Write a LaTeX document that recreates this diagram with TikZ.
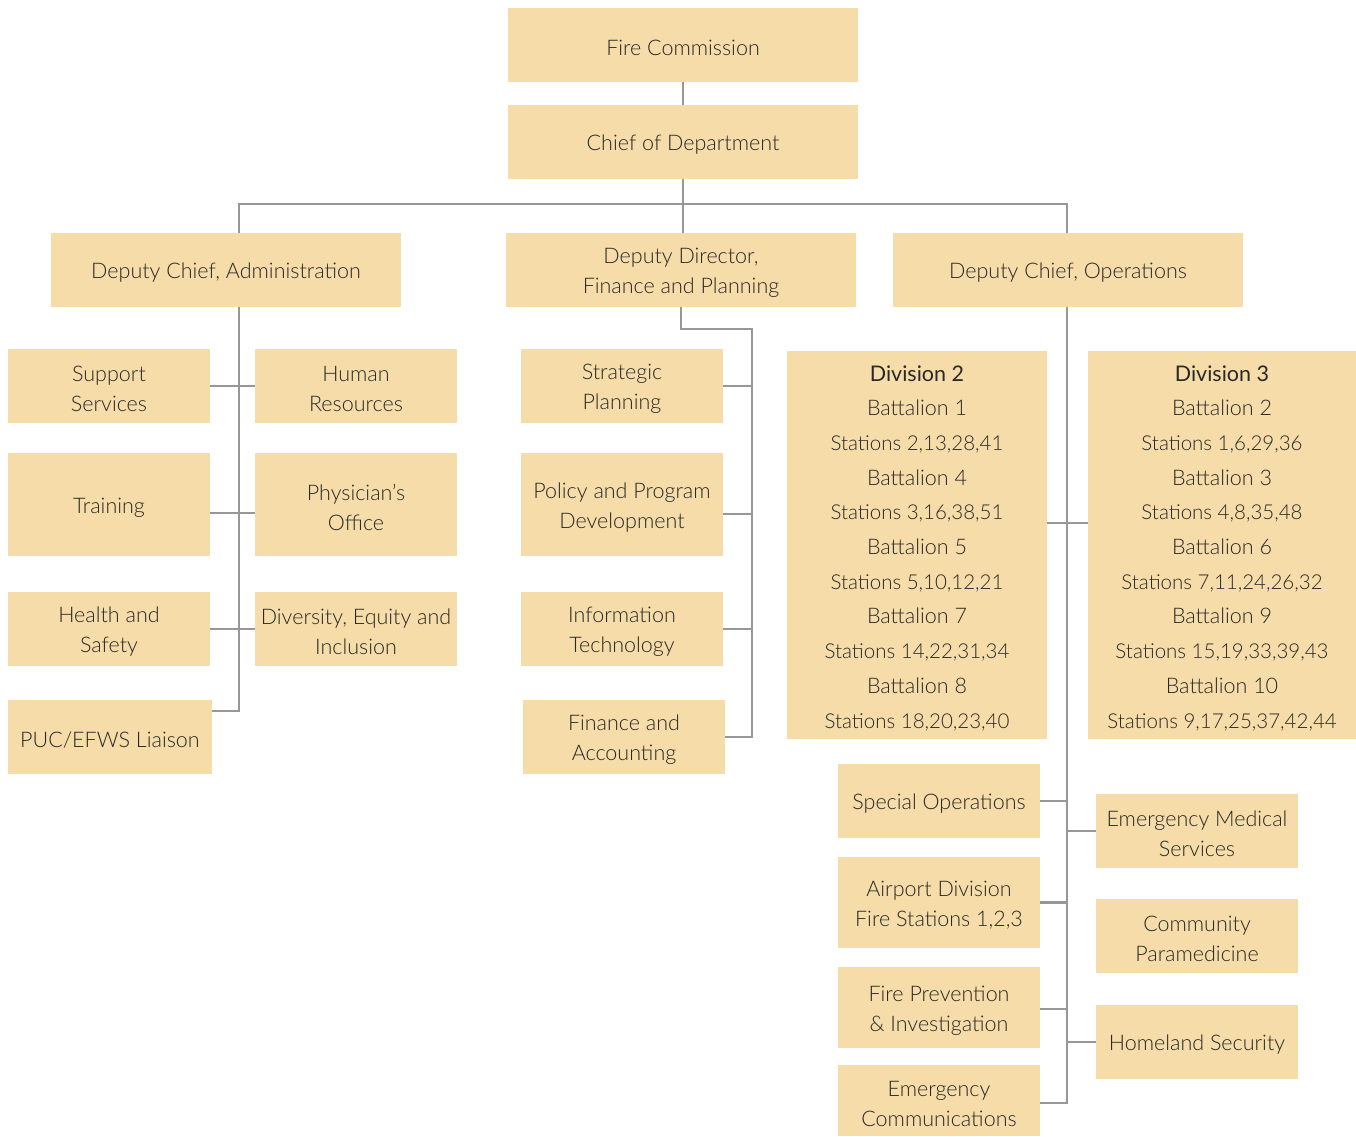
\documentclass[tikz,border=0pt]{standalone}
\usepackage{fontspec}
\setmainfont{Lato Light}
\newfontfamily\titlefont{Lato}
\newcommand{\stn}[1]{{\fontsize{20.5}{34.7}\selectfont #1}}
\definecolor{boxfill}{RGB}{245,220,168}
\definecolor{linecol}{RGB}{150,150,155}
\definecolor{txt}{RGB}{40,40,40}
\begin{document}
\begin{tikzpicture}[x=1pt,y=-1pt,
  txtstyle/.style={align=center,text=txt,inner sep=0pt,yshift=-3pt,
    font=\fontsize{21.5}{30}\selectfont},
  divtxt/.style={txtstyle,font=\fontsize{21.5}{34.7}\selectfont},
  box/.style={fill=boxfill,draw=none,inner sep=0pt,label={[txtstyle]center:#1}},
  wide/.style={box={#1},minimum width=350pt,minimum height=74pt},
  small/.style={box={#1},minimum width=202pt,minimum height=74pt},
  divbox/.style={fill=boxfill,draw=none,inner sep=0pt,minimum height=388pt,
    label={[divtxt]center:#1}},
  conn/.style={draw=linecol,line width=2.6pt,line cap=butt,line join=miter}]
\useasboundingbox (0,0) rectangle (1356,1136);
% top
\node[wide={Fire Commission}] (fc) at (683,45) {};
\node[wide={Chief of Department}] (cod) at (683,142) {};
\node[wide={Deputy Chief, Administration}] (dca) at (226,270) {};
\node[wide={Deputy Director,\\Finance and Planning}] (ddf) at (681,270) {};
\node[wide={Deputy Chief, Operations}] (dco) at (1068,270) {};
% admin
\node[small={Support\\Services}] (ss) at (109,386) {};
\node[small={Human\\Resources}] (hr) at (356,386) {};
\node[small={Training},minimum height=103pt] (tr) at (109,504.5) {};
\node[small={Physician’s\\Office},minimum height=103pt] (po) at (356,504.5) {};
\node[small={Health and\\Safety}] (hs) at (109,629) {};
\node[small={Diversity, Equity and\\Inclusion}] (dei) at (356,629) {};
\node[small={PUC/EFWS Liaison},minimum width=204pt] (puc) at (110,737) {};
% finance
\node[small={Strategic\\Planning}] (sp) at (622,386) {};
\node[small={Policy and Program\\Development},minimum height=103pt] (ppd) at (622,504.5) {};
\node[small={Information\\Technology}] (it) at (622,629) {};
\node[small={Finance and\\Accounting}] (fa) at (624,737) {};
% operations
\node[divbox={{\titlefont Division 2}\\Battalion 1\\\stn{Stations 2,13,28,41}\\Battalion 4\\\stn{Stations 3,16,38,51}\\Battalion 5\\\stn{Stations 5,10,12,21}\\Battalion 7\\\stn{Stations 14,22,31,34}\\Battalion 8\\\stn{Stations 18,20,23,40}},minimum width=260pt] (div2) at (917,545) {};
\node[divbox={{\titlefont Division 3}\\Battalion 2\\\stn{Stations 1,6,29,36}\\Battalion 3\\\stn{Stations 4,8,35,48}\\Battalion 6\\\stn{Stations 7,11,24,26,32}\\Battalion 9\\\stn{Stations 15,19,33,39,43}\\Battalion 10\\\stn{Stations 9,17,25,37,42,44}},minimum width=268pt] (div3) at (1222,545) {};
\node[small={Special Operations}] (so) at (939,801) {};
\node[small={Airport Division\\Fire Stations 1,2,3},minimum height=91pt] (ad) at (939,902.5) {};
\node[small={Fire Prevention\\\& Investigation},minimum height=81pt] (fp) at (939,1007.5) {};
\node[small={Emergency\\Communications},minimum height=71pt] (ec) at (939,1100.5) {};
\node[small={Emergency Medical\\Services}] (ems) at (1197,831) {};
\node[small={Community\\Paramedicine}] (cp) at (1197,936) {};
\node[small={Homeland Security}] (hsec) at (1197,1042) {};
% coordinates
\coordinate (admbus) at (239,204);
\coordinate (opsbus) at (1067,204);
\coordinate (admend) at (239,711);
\coordinate (brT) at (239,513);
\coordinate (fincorner) at (752,329);
\coordinate (brP) at (752,514);
\coordinate (opsend) at (1067,1103);
\coordinate (brD) at (1067,523);
\coordinate (brF) at (1067,1009);
% connectors
\draw[conn] (fc.south) -- (cod.north);
\draw[conn] (cod.south) -- (cod.south |- ddf.north);
\draw[conn] (dca.north -| admbus) -- (admbus) -- (opsbus) -- (dco.north -| opsbus);
\draw[conn] (dca.south -| admend) -- (admend) -- (admend -| puc.east);
\draw[conn] (ss.east) -- (hr.west);
\draw[conn] (tr.east |- brT) -- (po.west |- brT);
\draw[conn] (hs.east) -- (dei.west);
\draw[conn] (ddf.south) |- (fincorner) -- (fincorner |- fa.east) -- (fa.east);
\draw[conn] (sp.east) -- (sp.east -| fincorner);
\draw[conn] (ppd.east |- brP) -- (brP);
\draw[conn] (it.east) -- (it.east -| fincorner);
\draw[conn] (dco.south -| opsend) -- (opsend) -- (opsend -| ec.east);
\draw[conn] (div2.east |- brD) -- (div3.west |- brD);
\draw[conn] (so.east) -- (so.east -| opsend);
\draw[conn] (ad.east) -- (ad.east -| opsend);
\draw[conn] (fp.east |- brF) -- (brF);
\draw[conn] (ems.west) -- (ems.west -| opsend);
\draw[conn] (hsec.west) -- (hsec.west -| opsend);
\end{tikzpicture}
\end{document}
